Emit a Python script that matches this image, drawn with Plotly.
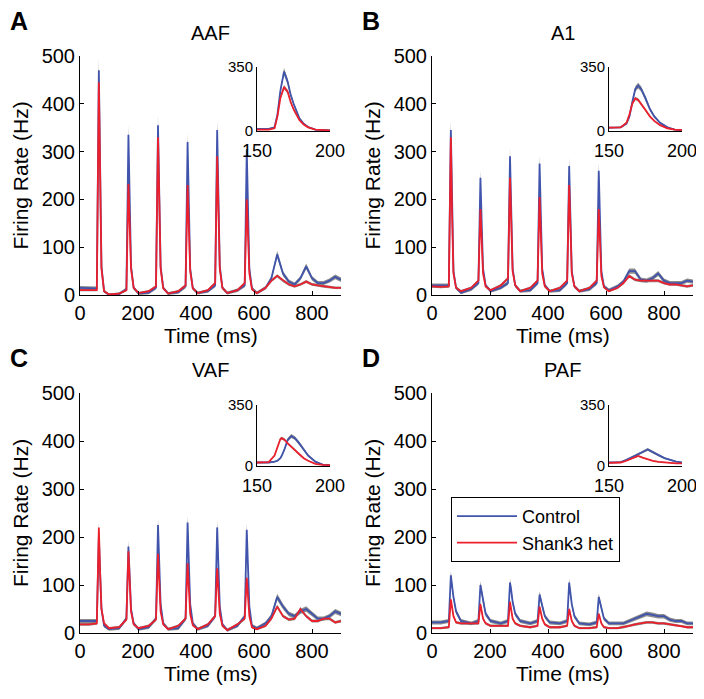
import numpy as np
import plotly.graph_objects as go

# ---------------- data ----------------
time_ms = [0, 30, 58, 65, 69, 74, 83, 100, 135,
           160, 167, 171, 176, 185, 202, 237,
           262, 269, 273, 278, 287, 304, 339,
           364, 371, 375, 380, 389, 406, 441,
           466, 473, 477, 482, 491, 508, 543,
           568, 575, 579, 584, 593, 610,
           640, 660, 680, 700, 720, 740, 760, 780, 800, 820, 840, 860, 880, 900]

aaf_control = [15, 15, 14, 470, 250, 60, 8, 0, 2,
               12, 335, 200, 60, 15, 3, 5,
               15, 355, 200, 60, 15, 3, 6,
               18, 320, 190, 55, 14, 4, 8,
               20, 345, 200, 60, 15, 4, 10,
               20, 305, 180, 55, 14, 4,
               15, 35, 85, 45, 28, 22, 35, 60, 35, 25, 25, 30, 38, 32]
aaf_het = [10, 10, 10, 445, 240, 55, 8, 1, 3,
           10, 232, 170, 55, 15, 4, 8,
           18, 330, 190, 55, 14, 3, 8,
           20, 230, 150, 50, 14, 4, 10,
           25, 290, 180, 55, 15, 4, 10,
           25, 200, 130, 45, 12, 4,
           15, 30, 40, 30, 22, 18, 22, 28, 22, 20, 18, 16, 15, 15]

a1_control = [20, 20, 20, 345, 180, 50, 15, 5, 12,
              25, 245, 150, 55, 20, 8, 15,
              25, 290, 170, 55, 20, 8, 10,
              25, 275, 160, 55, 20, 8, 10,
              25, 270, 160, 50, 18, 8, 12,
              25, 260, 150, 50, 18, 10,
              18, 28, 50, 50, 32, 30, 35, 45, 30, 25, 25, 25, 30, 28]
a1_het = [18, 17, 18, 330, 175, 45, 15, 8, 15,
          30, 180, 120, 45, 18, 10, 20,
          35, 245, 150, 50, 20, 8, 15,
          30, 205, 130, 45, 18, 8, 15,
          30, 230, 140, 45, 18, 8, 15,
          30, 180, 110, 40, 16, 8,
          15, 25, 40, 32, 30, 30, 30, 30, 25, 22, 22, 20, 18, 20]

vaf_control = [25, 25, 25, 200, 120, 50, 15, 8, 10,
               30, 180, 120, 50, 20, 8, 12,
               30, 225, 150, 60, 20, 8, 10,
               30, 230, 150, 60, 20, 8, 15,
               35, 220, 140, 55, 18, 6, 15,
               35, 215, 140, 55, 15, 10,
               20, 35, 75, 55, 40, 35, 45, 50, 40, 30, 30, 35, 45, 40]
vaf_het = [18, 18, 20, 220, 130, 50, 20, 10, 12,
           28, 170, 110, 45, 18, 10, 15,
           28, 165, 110, 45, 18, 8, 15,
           30, 145, 100, 40, 16, 8, 18,
           35, 135, 90, 40, 15, 6, 18,
           30, 115, 80, 35, 12, 8,
           15, 30, 55, 35, 28, 30, 50, 35, 25, 25, 30, 30, 22, 25]

paf_control = [22, 22, 25, 120, 100, 75, 45, 25, 20,
               25, 100, 85, 65, 40, 25, 20,
               25, 105, 90, 65, 40, 25, 20,
               25, 80, 70, 55, 35, 22, 20,
               25, 105, 85, 60, 35, 20, 18,
               22, 75, 65, 50, 30, 20,
               20, 20, 25, 30, 35, 40, 38, 35, 35, 28, 25, 25, 20, 20]
paf_het = [10, 10, 12, 70, 55, 35, 22, 20, 20,
           20, 60, 45, 30, 20, 15, 15,
           15, 65, 50, 30, 20, 15, 12,
           15, 55, 45, 30, 18, 12, 12,
           15, 50, 40, 25, 15, 10, 10,
           12, 40, 30, 20, 12, 10,
           10, 12, 15, 18, 20, 22, 22, 20, 20, 18, 16, 15, 12, 12]

# inset data (150-200 ms window)
aaf_inset_t = [150, 158, 162, 164, 166, 168.5, 171, 173, 175, 177, 179, 182, 185, 190, 195, 200]
aaf_inset_control = [12, 12, 20, 90, 220, 325, 270, 200, 150, 110, 70, 40, 22, 8, 4, 3]
aaf_inset_het = [8, 8, 15, 80, 180, 240, 215, 160, 120, 90, 60, 35, 20, 8, 4, 3]

a1_inset_t = [150, 158, 162, 164, 166, 168, 170, 172, 175, 178, 181, 185, 190, 195, 200]
a1_inset_control = [18, 20, 40, 80, 160, 230, 248, 230, 180, 120, 80, 45, 20, 8, 5]
a1_inset_het = [18, 20, 45, 90, 150, 178, 170, 150, 115, 80, 55, 32, 15, 8, 5]

vaf_inset_t = [150, 158, 162, 164, 166, 167, 169, 171, 173.5, 176, 179, 182, 185, 190, 195, 200]
vaf_inset_control = [20, 20, 25, 30, 45, 60, 100, 150, 172, 160, 130, 95, 60, 25, 8, 5]
vaf_inset_het = [20, 22, 60, 110, 155, 160, 150, 130, 110, 90, 65, 45, 30, 12, 6, 5]

paf_inset_t = [150, 158, 162, 166, 170, 173, 176.5, 180, 184, 188, 192, 196, 200]
paf_inset_control = [20, 22, 35, 50, 65, 80, 95, 80, 60, 45, 35, 25, 20]
paf_inset_het = [18, 20, 30, 45, 58, 48, 38, 30, 24, 20, 17, 15, 15]

panel_letters = ["A", "B", "C", "D"]
panel_titles = ["AAF", "A1", "VAF", "PAF"]
main_x_ticks = [0, 200, 400, 600, 800]
main_y_ticks = [0, 100, 200, 300, 400, 500]
inset_x_ticks = [150, 200]
inset_y_ticks = [0, 350]
series_names = ["Control", "Shank3 het"]
x_title = "Time (ms)"
y_title = "Firing Rate (Hz)"

# relative error band (SEM) used for the gray shading
sem_floor = [3.0, 2.0]
sem_frac = [0.05, 0.04]

main_data = [(aaf_control, aaf_het), (a1_control, a1_het),
             (vaf_control, vaf_het), (paf_control, paf_het)]
inset_data = [(aaf_inset_t, aaf_inset_control, aaf_inset_het),
              (a1_inset_t, a1_inset_control, a1_inset_het),
              (vaf_inset_t, vaf_inset_control, vaf_inset_het),
              (paf_inset_t, paf_inset_control, paf_inset_het)]

# ---------------- layout geometry (window pixels) ----------------
WIN_W, WIN_H = 704, 699
OX, OY = 8, 8                      # default page body margin
W, H = WIN_W - OX, WIN_H - OY      # figure size so it ends at the window edge
main_px = [(80, 341, 56, 295), (432, 693, 56, 295), (80, 341, 393, 633), (432, 693, 393, 633)]
inset_px = [(257, 330, 67, 131), (609, 682, 67, 131), (257, 330, 405, 466), (609, 682, 405, 466)]

FONT = "Liberation Sans, Arial, Helvetica, sans-serif"
BLUE = "rgb(64,84,172)"
RED = "rgb(236,32,44)"
GRAY = "rgba(120,120,120,0.85)"


def px_x(x):
    return (x - OX) / W


def px_y(y):
    return 1 - (y - OY) / H


def xdom(l, r):
    return [px_x(l), px_x(r)]


def ydom(t, b):
    return [px_y(b), px_y(t)]


fig = go.Figure()
layout = {}
annotations = []


def add_series(x, ys, xa, ya, show_legend):
    x = list(x)
    colors = [BLUE, RED]
    for k, y in enumerate(ys):
        y = np.array(y, dtype=float)
        sem = sem_floor[k] + sem_frac[k] * y
        up = y + sem
        lo = np.clip(y - sem, 0, None)
        fig.add_trace(go.Scatter(
            x=x + x[::-1], y=list(up) + list(lo[::-1]),
            fill="toself", fillcolor=GRAY, line=dict(width=0, color=GRAY),
            mode="lines", hoverinfo="skip", showlegend=False,
            xaxis=xa, yaxis=ya))
    for k, y in enumerate(ys):
        fig.add_trace(go.Scatter(
            x=x, y=list(y), mode="lines", name=series_names[k],
            line=dict(color=colors[k], width=1.8),
            showlegend=show_legend,
            xaxis=xa, yaxis=ya))


axis_common = dict(showline=True, linecolor="black", linewidth=1, ticks="inside",
                   tickcolor="black", showgrid=False, zeroline=False, mirror=False,
                   automargin=False)

for i in range(4):
    mi = 2 * i + 1
    ii = 2 * i + 2
    mxa, mya = f"x{mi}", f"y{mi}"
    ixa, iya = f"x{ii}", f"y{ii}"
    l, r, t, b = main_px[i]
    ctrl, het = main_data[i]
    add_series(time_ms, [ctrl, het], mxa, mya, show_legend=(i == 3))
    it, ic, ih = inset_data[i]
    add_series(it, [ic, ih], ixa, iya, show_legend=False)

    layout[f"xaxis{mi}"] = dict(axis_common, domain=xdom(l, r), anchor=mya, range=[0, 900],
                                tickvals=main_x_ticks, ticklen=4,
                                tickfont=dict(size=20, family=FONT, color="black"))
    layout[f"yaxis{mi}"] = dict(axis_common, domain=ydom(t, b), anchor=mxa, range=[0, 500],
                                tickvals=main_y_ticks, ticklen=4,
                                tickfont=dict(size=20, family=FONT, color="black"))
    il, ir, itp, ib = inset_px[i]
    layout[f"xaxis{ii}"] = dict(axis_common, domain=xdom(il, ir), anchor=iya, range=[150, 200],
                                tickvals=inset_x_ticks, ticklen=3, ticklabelstandoff=3,
                                tickfont=dict(size=18, family=FONT, color="black"))
    layout[f"yaxis{ii}"] = dict(axis_common, domain=ydom(itp, ib), anchor=ixa, range=[0, 350],
                                tickvals=inset_y_ticks, ticklen=3,
                                tickfont=dict(size=15, family=FONT, color="black"))

    # axis titles
    annotations.append(dict(text=x_title, xref="paper", yref="paper",
                            x=px_x((l + r) / 2), y=px_y(b + 40),
                            xanchor="center", yanchor="middle", showarrow=False,
                            font=dict(size=21, family=FONT, color="black")))
    annotations.append(dict(text=y_title, xref="paper", yref="paper",
                            x=px_x(l - 60), y=px_y((t + b) / 2), textangle=-90,
                            xanchor="center", yanchor="middle", showarrow=False,
                            font=dict(size=21, family=FONT, color="black")))
    # panel title
    annotations.append(dict(text=panel_titles[i], xref="paper", yref="paper",
                            x=px_x((l + r) / 2), y=px_y(t - 23),
                            xanchor="center", yanchor="middle", showarrow=False,
                            font=dict(size=20, family=FONT, color="black")))
    # panel letter
    annotations.append(dict(text=f"<b>{panel_letters[i]}</b>", xref="paper", yref="paper",
                            x=px_x(l - 72), y=px_y(t - 35),
                            xanchor="left", yanchor="middle", showarrow=False,
                            font=dict(size=25, family=FONT, color="black")))

layout.update(dict(
    template="none",
    width=W, height=H,
    margin=dict(l=0, r=0, t=0, b=0, pad=0),
    paper_bgcolor="white", plot_bgcolor="white",
    annotations=annotations,
    showlegend=True,
    legend=dict(x=px_x(451), y=px_y(497), xanchor="left", yanchor="top",
                bgcolor="white", bordercolor="black", borderwidth=1,
                font=dict(size=18, family=FONT, color="black"),
                tracegroupgap=0, itemwidth=60),
    font=dict(family=FONT, color="black"),
))
fig.update_layout(**layout)
fig.write_html("out.html")
